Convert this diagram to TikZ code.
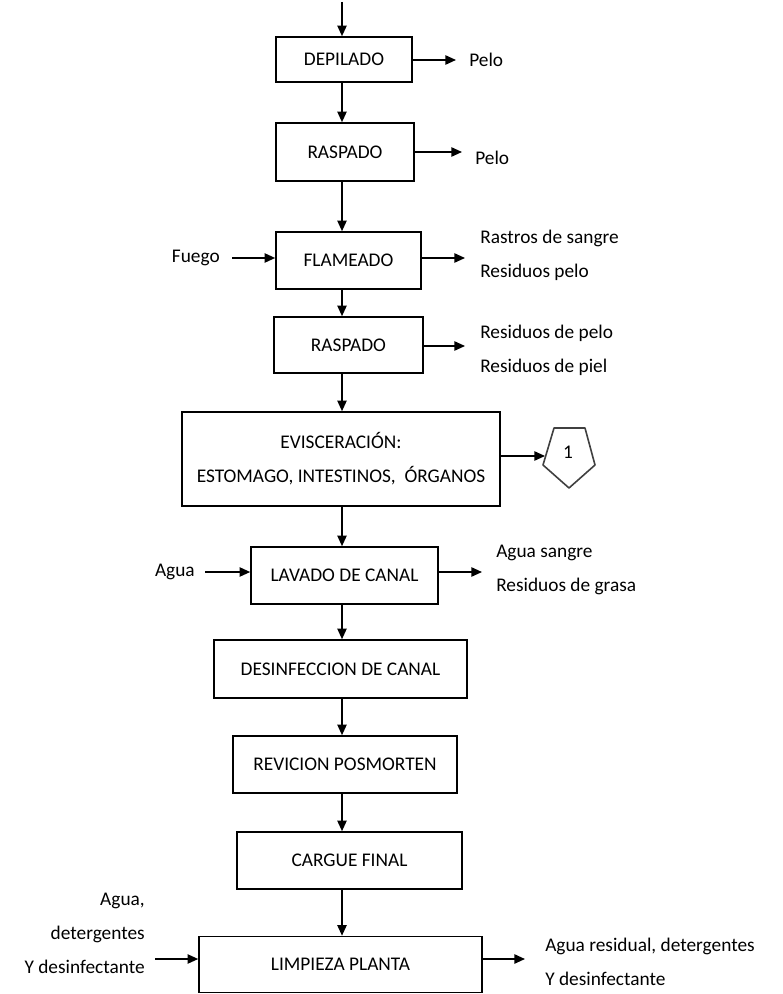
\documentclass[tikz,border=0pt]{standalone}
\usepackage{fontspec}
\setmainfont{Carlito}
\usetikzlibrary{arrows.meta}
% lengths given in drawing units (1 unit = 0.75pt)
\newcommand\pxu[1]{#1*0.75pt}
\begin{document}
\begin{tikzpicture}[x=0.75pt,y=-0.75pt,
  every node/.style={font=\fontsize{14.5}{25.5}\selectfont, inner sep=0pt},
  stage/.style={draw, line width=1.2pt, align=center},
  flow/.style={line width=1.2pt, -{Triangle[length=8pt,width=7pt]}},
  outtext/.style={align=left, anchor=west},
  intext/.style={align=right, anchor=east},
]
\useasboundingbox (0,0) rectangle (782,994);

% vertical axis of the main flow
\coordinate (axis) at (342,0);
\coordinate (start) at (342,2);

% process stages
\node[stage, minimum width=\pxu{136}, minimum height=\pxu{45}] (dep)  at (344,59.5)  {DEPILADO};
\node[stage, minimum width=\pxu{138}, minimum height=\pxu{58}] (ras1) at (345,152)   {RASPADO};
\node[stage, minimum width=\pxu{145}, minimum height=\pxu{57}] (fla)  at (348.5,260.5) {FLAMEADO};
\node[stage, minimum width=\pxu{149}, minimum height=\pxu{56}] (ras2) at (348.5,345) {RASPADO};
\node[stage, minimum width=\pxu{318}, minimum height=\pxu{94}] (evi)  at (341,459)
  {EVISCERACIÓN:\\ESTOMAGO, INTESTINOS,\ \ ÓRGANOS};
\node[stage, minimum width=\pxu{187}, minimum height=\pxu{57}] (lav)  at (344.5,575.5) {LAVADO DE CANAL};
\node[stage, minimum width=\pxu{253}, minimum height=\pxu{58}] (des)  at (340.5,669) {DESINFECCION DE CANAL};
\node[stage, minimum width=\pxu{224}, minimum height=\pxu{57}] (rev)  at (345,764.5) {REVICION POSMORTEN};
\node[stage, minimum width=\pxu{225}, minimum height=\pxu{57}] (car)  at (349.5,860.5) {CARGUE FINAL};
\node[stage, minimum width=\pxu{283}, minimum height=\pxu{56}] (lim)  at (340.5,964.5) {LIMPIEZA PLANTA};

% main flow
\draw[flow] (start) -- (dep.north -| axis);
\draw[flow] (dep.south -| axis)  -- (ras1.north -| axis);
\draw[flow] (ras1.south -| axis) -- (fla.north -| axis);
\draw[flow] (fla.south -| axis)  -- (ras2.north -| axis);
\draw[flow] (ras2.south -| axis) -- (evi.north -| axis);
\draw[flow] (evi.south -| axis)  -- (lav.north -| axis);
\draw[flow] (lav.south -| axis)  -- (des.north -| axis);
\draw[flow] (des.south -| axis)  -- (rev.north -| axis);
\draw[flow] (rev.south -| axis)  -- (car.north -| axis);
\draw[flow] (car.south -| axis)  -- (lim.north -| axis);

% outputs
\node[outtext] (o1) at (469,60)  {Pelo};
\node[outtext] (o2) at (475,158) {Pelo};
\node[outtext] (o3) at (480,255) {Rastros de sangre\\Residuos pelo};
\node[outtext] (o4) at (480,350) {Residuos de pelo\\Residuos de piel};
\node[outtext] (o6) at (496,570) {Agua sangre\\Residuos de grasa};
\node[outtext] (o7) at (545,961.5) {Agua residual, detergentes\\Y desinfectante};

\coordinate (r1) at (0,60);
\coordinate (r2) at (0,152);
\coordinate (r3) at (0,258);
\coordinate (r4) at (0,346);
\coordinate (r6) at (0,572);
\coordinate (r7) at (0,959);

\draw[flow, shorten >=\pxu{13}] (dep.east |- r1)  -- (o1.west |- r1);
\draw[flow, shorten >=\pxu{13}] (ras1.east |- r2) -- (o2.west |- r2);
\draw[flow, shorten >=\pxu{15}] (fla.east |- r3)  -- (o3.west |- r3);
\draw[flow, shorten >=\pxu{15}] (ras2.east |- r4) -- (o4.west |- r4);
\draw[flow, shorten >=\pxu{14}] (lav.east |- r6)  -- (o6.west |- r6);
\draw[flow, shorten >=\pxu{20}] (lim.east |- r7)  -- (o7.west |- r7);

% off-page connector
\draw[black!75, line width=1.2pt, line join=round]
  (554,428) -- (585,428) -- (595,465) -- (569,488) -- (543,465) -- cycle;
\node (one) at (568,452) {1};
\coordinate (pin) at (545,456);
\draw[flow] (evi.east |- pin) -- (pin);

% inputs
\node[intext] (i1) at (220,258) {Fuego};
\node[intext] (i2) at (195,572) {Agua};
\node[intext] (i3) at (145,933) {Agua,\\detergentes\\Y desinfectante};

\draw[flow, shorten <=\pxu{12}] (i1.east) -- (i1.east -| fla.west);
\draw[flow, shorten <=\pxu{10}] (i2.east) -- (i2.east -| lav.west);
\draw[flow, shorten <=\pxu{10}] (i3.east |- r7) -- (lim.west |- r7);
\end{tikzpicture}
\end{document}
